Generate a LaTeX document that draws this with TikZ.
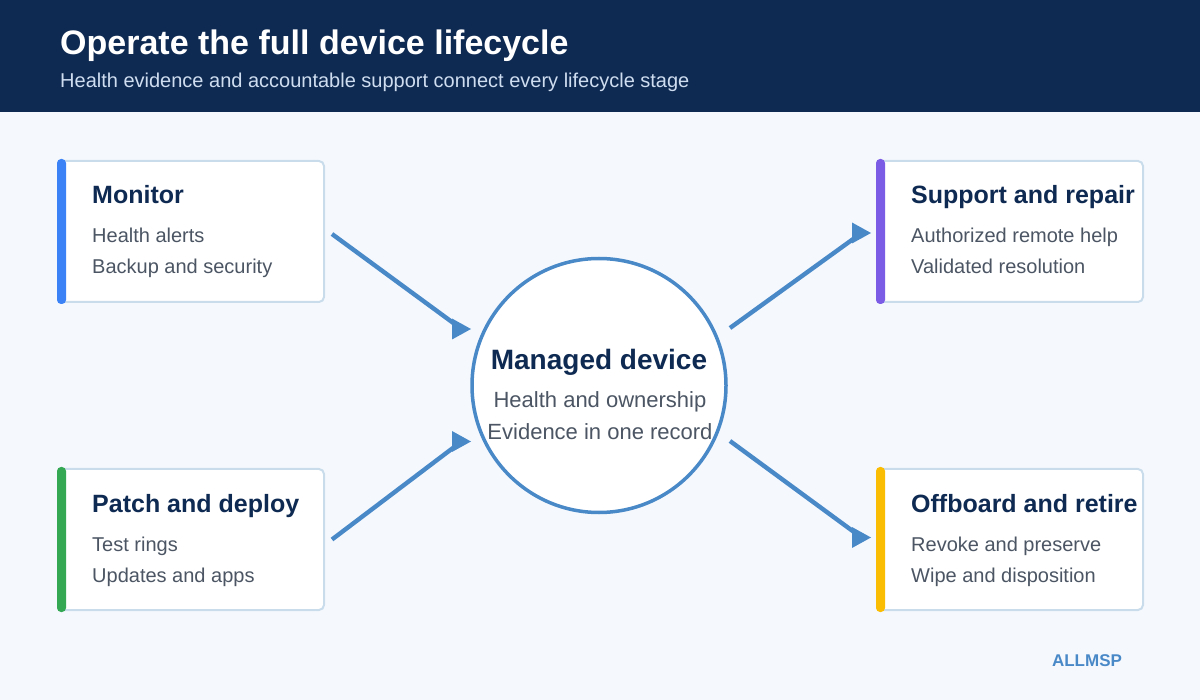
\documentclass[tikz,border=0pt]{standalone}
\usepackage{fontspec}
\setmainfont{Liberation Sans}
\usetikzlibrary{arrows.meta,calc}
\definecolor{navy}{HTML}{0F2A52}
\definecolor{subt}{HTML}{CFDDF0}
\definecolor{bgc}{HTML}{F5F9FE}
\definecolor{bord}{HTML}{C9DCEC}
\definecolor{bodyc}{HTML}{4B5563}
\definecolor{arrc}{HTML}{4A89C8}
\definecolor{cblue}{HTML}{3B82F6}
\definecolor{cgreen}{HTML}{34A853}
\definecolor{cpurple}{HTML}{7B5CE5}
\definecolor{cyellow}{HTML}{FBBC04}
\tikzset{
  card/.style={draw=bord, line width=2pt, fill=white, rounded corners=5pt, minimum width=265pt, minimum height=141pt, inner sep=0pt, anchor=north west},
  ctitle/.style={anchor=base west, inner sep=0pt, text=navy, font=\fontsize{25}{30}\selectfont\bfseries},
  cbody/.style={anchor=base west, inner sep=0pt, text=bodyc, font=\fontsize{20}{24}\selectfont},
  arr/.style={draw=arrc, line width=4.4pt},
  tipc/.style={fill=arrc},
}
\newcommand{\rtip}[1]{\fill[tipc] ($(#1)+(-9.5,-10.5)$) -- ($(#1)+(9.5,0)$) -- ($(#1)+(-9.5,10.5)$) -- cycle;}
\begin{document}
\begin{tikzpicture}[x=1pt,y=-1pt]
\useasboundingbox (0,0) rectangle (1200,700);
\fill[bgc] (0,0) rectangle (1200,700);
\fill[navy] (0,0) rectangle (1200,112);
\node[anchor=base west, inner sep=0pt, text=white, font=\fontsize{34}{40}\selectfont\bfseries] (title) at (60,55) {Operate the full device lifecycle};
\node[anchor=base west, inner sep=0pt, text=subt, font=\fontsize{20}{24}\selectfont] (subtitle) at (60,88) {Health evidence and accountable support connect every lifecycle stage};

% cards
\node[card] (mon) at (58,160) {};
\node[card] (pat) at (58,468) {};
\node[card] (sup) at (877,160) {};
\node[card] (off) at (877,468) {};
\foreach \n/\c in {mon/cblue,pat/cgreen,sup/cpurple,off/cyellow}{
  \fill[\c, rounded corners=4pt] ($(\n.north west)+(-1,-1)$) rectangle ($(\n.south west)+(8,1)$);
}

\node[ctitle] (monT) at (92,204) {Monitor};
\node[cbody] (monA) at (92,243) {Health alerts};
\node[cbody] (monB) at (92,274) {Backup and security};

\node[ctitle] (patT) at (92,512) {Patch and deploy};
\node[cbody] (patA) at (92,551) {Test rings};
\node[cbody] (patB) at (92,582) {Updates and apps};

\node[ctitle] (supT) at (911,204) {Support and repair};
\node[cbody] (supA) at (911,243) {Authorized remote help};
\node[cbody] (supB) at (911,274) {Validated resolution};

\node[ctitle] (offT) at (911,512) {Offboard and retire};
\node[cbody] (offA) at (911,551) {Revoke and preserve};
\node[cbody] (offB) at (911,582) {Wipe and disposition};

% center
\node[circle, draw=arrc, line width=3.5pt, fill=white, minimum size=254pt, inner sep=0pt] (dev) at (599,385.5) {};
\node[anchor=base, inner sep=0pt, text=navy, font=\fontsize{28}{33}\selectfont\bfseries] (devT) at (599,370) {Managed device};
\node[anchor=base, inner sep=0pt, text=bodyc, font=\fontsize{22}{26}\selectfont] (devA) at (600,408) {Health and ownership};
\node[anchor=base, inner sep=0pt, text=bodyc, font=\fontsize{22}{26}\selectfont] (devB) at (600,440) {Evidence in one record};

% arrows
\coordinate (m1) at ($(mon.east)+(7,2.5)$);
\coordinate (m2) at (461.5,329);
\coordinate (p1) at ($(pat.east)+(7,0)$);
\coordinate (p2) at (461.5,441.5);
\coordinate (s1) at (730,328);
\coordinate (s2) at (861.5,233);
\coordinate (o1) at (730,441);
\coordinate (o2) at (861.5,537.5);
\draw[arr] (m1) -- (m2);
\draw[arr] (p1) -- (p2);
\draw[arr] (s1) -- (s2);
\draw[arr] (o1) -- (o2);
\rtip{m2}\rtip{p2}\rtip{s2}\rtip{o2}

\node[anchor=base, inner sep=0pt, text=arrc, font=\fontsize{17}{20}\selectfont\bfseries] (brand) at (1087,666) {ALLMSP};
\end{tikzpicture}
\end{document}
